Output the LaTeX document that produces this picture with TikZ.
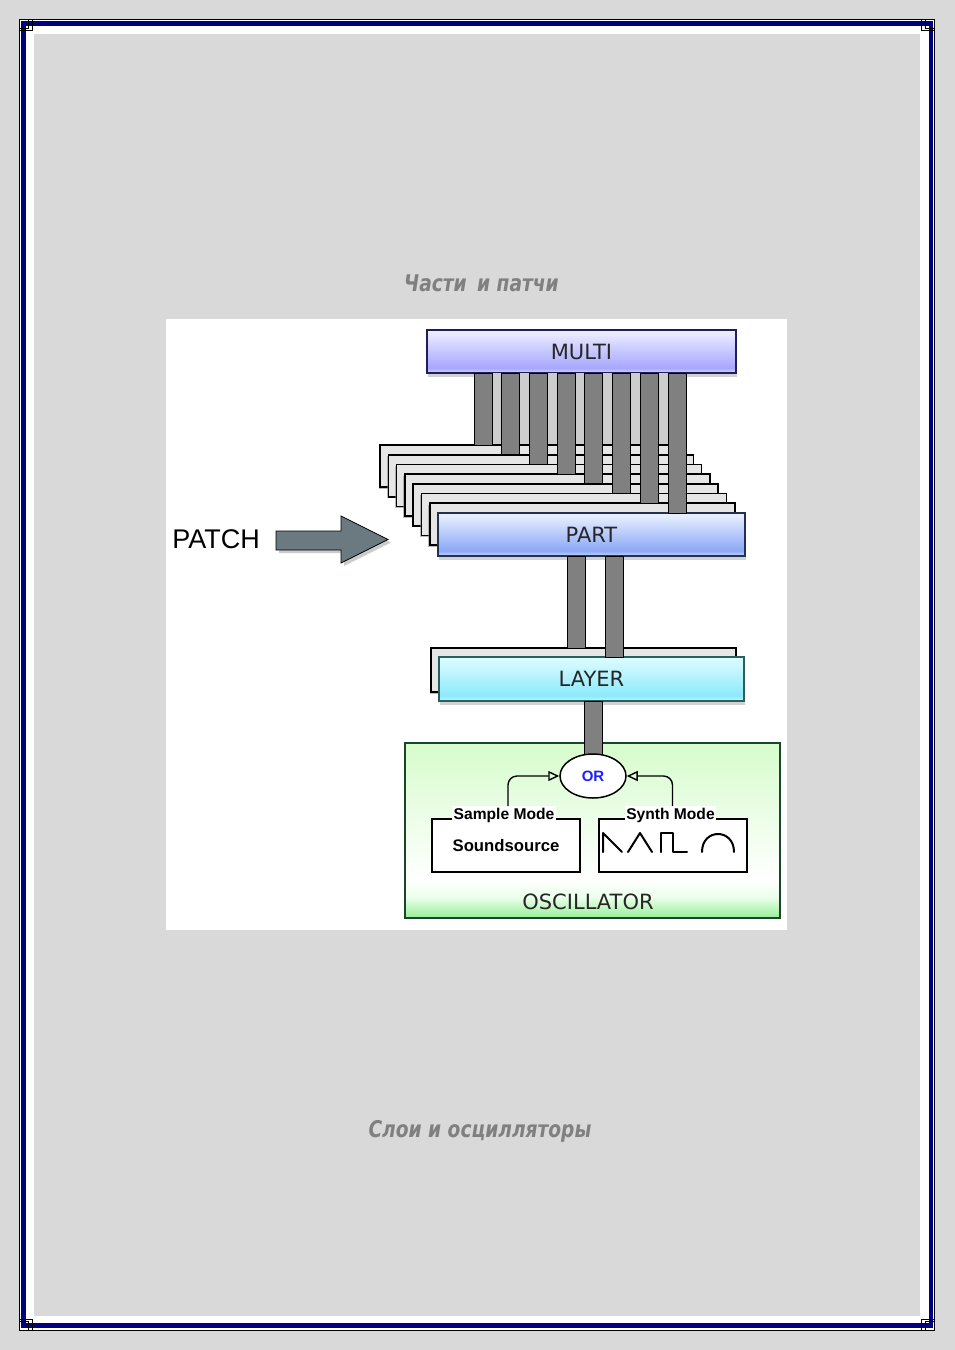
\documentclass[tikz,border=0pt]{standalone}
\usepackage{fontspec}
\setmainfont{DejaVu Sans}
\newfontfamily\helv{Liberation Sans}
\newfontfamily\titlefont[FakeStretch=0.9]{DejaVu Sans Condensed}
\usetikzlibrary{shapes.geometric,shadows,arrows.meta}

\definecolor{pagegray}{RGB}{217,217,217}
\definecolor{framenavy}{RGB}{0,0,128}
\definecolor{titlegray}{RGB}{128,128,128}
\definecolor{barfill}{RGB}{128,128,128}
\definecolor{platefill}{RGB}{230,230,230}
\definecolor{gapgray}{RGB}{205,205,205}
\definecolor{arrowslate}{RGB}{106,122,128}
\definecolor{multitop}{RGB}{236,236,255}
\definecolor{multibot}{RGB}{166,166,255}
\definecolor{multistrip}{RGB}{214,214,255}
\definecolor{multiedge}{RGB}{30,30,90}
\definecolor{parttop}{RGB}{230,238,255}
\definecolor{partbot}{RGB}{140,168,246}
\definecolor{partstrip}{RGB}{200,216,255}
\definecolor{partedge}{RGB}{35,50,80}
\definecolor{layertop}{RGB}{218,251,255}
\definecolor{layerbot}{RGB}{138,234,252}
\definecolor{layerstrip}{RGB}{200,246,255}
\definecolor{layeredge}{RGB}{40,95,95}
\definecolor{osctop}{RGB}{214,252,204}
\definecolor{oscmid}{RGB}{236,255,236}
\definecolor{oscbot}{RGB}{150,238,150}
\definecolor{oscedge}{RGB}{25,70,40}
\definecolor{orblue}{RGB}{30,30,255}

\pgfdeclareverticalshading{multishade}{100bp}{color(0bp)=(multistrip); color(25bp)=(multistrip); color(31bp)=(multibot); color(72bp)=(multitop); color(100bp)=(multitop)}
\pgfdeclareverticalshading{partshade}{100bp}{color(0bp)=(partstrip); color(25bp)=(partstrip); color(31bp)=(partbot); color(72bp)=(parttop); color(100bp)=(parttop)}
\pgfdeclareverticalshading{layershade}{100bp}{color(0bp)=(layerstrip); color(25bp)=(layerstrip); color(31bp)=(layerbot); color(72bp)=(layertop); color(100bp)=(layertop)}
\pgfdeclareverticalshading{oscshade}{100bp}{color(0bp)=(oscbot); color(25bp)=(oscbot); color(31bp)=(oscmid); color(36bp)=(white); color(75bp)=(osctop); color(100bp)=(osctop)}

\tikzset{
  levelbox/.style={draw, line width=1.6pt, minimum height=43pt, inner sep=0pt,
    shade, font=\fontsize{21}{21}\selectfont, text=black!85,
    drop shadow={opacity=.35, shadow xshift=1pt, shadow yshift=-4pt}},
  plate/.style={draw=black, line width=1.6pt, fill=platefill,
    drop shadow={opacity=.55, shadow xshift=-1.5pt, shadow yshift=-1.5pt}},
  bar/.style={draw=black, line width=.8pt, fill=barfill},
  modebox/.style={draw, line width=2pt, minimum width=148pt, minimum height=53pt, fill=white},
  modelabel/.style={fill=white, inner sep=1.5pt, font=\helv\bfseries\fontsize{15.6}{15.6}\selectfont},
  wave/.style={line width=2pt, line cap=round, line join=round},
  modearrow/.style={line width=1.4pt, rounded corners=9pt, -{Triangle[open, length=11pt, width=10pt]}},
  titletext/.style={text=titlegray, font=\titlefont\bfseries\itshape\fontsize{23}{23}\selectfont}
}

\begin{document}
\begin{tikzpicture}[x=1pt, y=-1pt]
\useasboundingbox (0,0) rectangle (955,1350);

% page and frame
\fill[pagegray] (0,0) rectangle (955,1350);
\fill[white] (19.5,19.5) rectangle (934,1330);
\draw[line width=1pt] (19.5,19.5) rectangle (934,1330);
\fill[framenavy] (21,21) rectangle (932.8,1328.3);
\fill[white] (26,26) rectangle (929,1323);
\fill[pagegray] (34,34) rectangle (920,1316);
\foreach \cx/\cy/\sx/\sy in {19.5/19.5/1/1, 934/19.5/-1/1, 19.5/1330/1/-1, 934/1330/-1/-1}
  \draw[line width=1pt, shift={(\cx,\cy)}, xscale=\sx, yscale=\sy] (0,0) rectangle (9,9) (0,0) rectangle (12.5,11);

% titles
\node[titletext] (title1) at (481.5,283) {Части\hspace{4pt} и патчи};
\node[titletext] (title2) at (480,1131) {Слои и осцилляторы};

% picture area
\fill[white] (166,319) rectangle (787,930);

% multi and the part stack
\node[levelbox, minimum width=309pt, shading=multishade, draw=multiedge] (multi) at (581.5,351.5) {MULTI};
\fill[gapgray] (491,373) rectangle (668,445);
\foreach \i in {0,...,6} {
  \pgfmathsetmacro\pl{380+8.3*\i}
  \pgfmathsetmacro\pt{445+9.7*\i}
  \draw[plate] (\pl,\pt) rectangle ++(305,42);
}
\node[levelbox, minimum width=307pt, shading=partshade, draw=partedge] (part) at (591.5,534.5) {PART};
\foreach \i in {0,...,7} {
  \pgfmathsetmacro\bx{474+27.7*\i}
  \pgfmathsetmacro\by{445+9.7*\i}
  \draw[bar] (\bx,373) rectangle ({\bx+18},\by);
}

% patch arrow
\node[font=\helv\fontsize{27}{27}\selectfont] (patch) at (216,539) {PATCH};
\filldraw[fill=arrowslate, draw=black, line width=.8pt,
  drop shadow={opacity=.4, shadow xshift=3pt, shadow yshift=-3pt}]
  (276,531) -- (341,531) -- (341,516) -- (388,539.5) -- (341,563) -- (341,550) -- (276,550) -- cycle;

% layer
\draw[plate] (431,648) rectangle (736,692);
\node[levelbox, minimum width=305pt, minimum height=44pt, shading=layershade, draw=layeredge] (layer) at (591.5,679) {LAYER};
\draw[bar] (567,556) rectangle (585,648);
\draw[bar] (605,556) rectangle (623,657);

% oscillator
\node[draw=oscedge, line width=1.6pt, shade, shading=oscshade, minimum width=375pt, minimum height=175pt] (osc) at (592.5,830.5) {};
\node[font=\fontsize{21}{21}\selectfont, text=black!85] (osclbl) at (588,902) {OSCILLATOR};
\draw[bar] (584,701) rectangle (602,760);
\node[ellipse, draw, line width=1.5pt, fill=white, minimum width=66pt, minimum height=44pt, inner sep=0pt,
  font=\helv\bfseries\fontsize{15}{15}\selectfont, text=orblue] (or) at (593,776) {OR};

\node[modebox, font=\helv\bfseries\fontsize{16.7}{16.7}\selectfont] (sample) at (506,845.5) {Soundsource};
\node[modebox] (synth) at (672.5,845.5) {};
\node[modelabel] (samplelbl) at (504,815) {Sample Mode};
\node[modelabel] (synthlbl) at (670.5,815) {Synth Mode};

\draw[wave] (603,852) -- (603,833) -- (622,852);
\draw[wave] (628,852) -- (640,833) -- (652,852);
\draw[wave] (661,852) -- (661,833) -- (673,833) -- (673,852) -- (687,852);
\draw[wave] (702,852) .. controls (702,828) and (734,828) .. (734,852);

\draw[modearrow] ([xshift=4pt]samplelbl.north) |- (or.west);
\draw[modearrow] ([xshift=2pt]synthlbl.north) |- (or.east);
\end{tikzpicture}
\end{document}
